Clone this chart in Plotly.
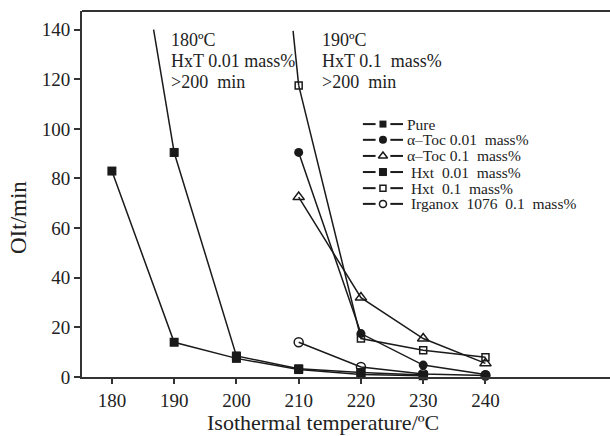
import plotly.graph_objects as go

# ---- data ----
temps_pure = [180, 190, 200, 210, 220, 230]
pure = [83, 14, 7.5, 3, 1, 0.5]

temps_atoc001 = [210, 220, 230, 240]
atoc001 = [90.5, 17.5, 4.8, 1]

temps_atoc01 = [210, 220, 230, 240]
atoc01 = [72.5, 32, 15.5, 5.5]

temps_hxt001 = [190, 200, 210, 220, 230]
hxt001 = [90.5, 8.5, 3.3, 1.8, 0.8]
hxt001_lead_x = [186.7, 190]   # line from the ">200 min" point
hxt001_lead_y = [140, 90.5]

temps_hxt01 = [210, 220, 230, 240]
hxt01 = [117.5, 15.5, 10.8, 8]
hxt01_lead_x = [209.1, 210]
hxt01_lead_y = [139.5, 117.5]

temps_irg = [210, 220, 230, 240]
irg = [14, 4, 1.2, 0.6]

x_ticks = [180, 190, 200, 210, 220, 230, 240]
y_ticks = [0, 20, 40, 60, 80, 100, 120, 140]

names = ["Pure", "α–Toc 0.01  mass%", "α–Toc 0.1  mass%",
         " Hxt  0.01  mass%", " Hxt  0.1  mass%", " Irganox  1076  0.1  mass%"]

FONT = "Liberation Serif"
LC = "#1a1a1a"
TC = "#222"
AX = "#333"
XR = [175.2, 260]
YR = [0, 147.5]

markers = [
    dict(symbol="square", size=9, color=LC),
    dict(symbol="circle", size=9, color=LC),
    dict(symbol="triangle-up-open", size=10, color=LC, line=dict(width=1.5, color=LC)),
    dict(symbol="square-x", size=8, color=LC, line=dict(width=1, color=LC)),
    dict(symbol="square-open", size=7, color=LC, line=dict(width=1.5, color=LC)),
    dict(symbol="circle-open", size=9, color=LC, line=dict(width=1.5, color=LC)),
]
leg_markers = [
    dict(symbol="square", size=7, color=LC),
    dict(symbol="circle", size=8, color=LC),
    dict(symbol="triangle-up-open", size=8, color=LC, line=dict(width=1.5, color=LC)),
    dict(symbol="square-x", size=7, color=LC, line=dict(width=1, color=LC)),
    dict(symbol="square-open", size=6, color=LC, line=dict(width=1.5, color=LC)),
    dict(symbol="circle-open", size=7, color=LC, line=dict(width=1.5, color=LC)),
]

xs_all = [temps_pure, temps_atoc001, temps_atoc01, temps_hxt001, temps_hxt01, temps_irg]
ys_all = [pure, atoc001, atoc01, hxt001, hxt01, irg]

fig = go.Figure()

for lx, ly in [(hxt001_lead_x, hxt001_lead_y), (hxt01_lead_x, hxt01_lead_y)]:
    fig.add_trace(go.Scatter(x=lx, y=ly, mode="lines", line=dict(color=LC, width=1.5),
                             showlegend=False, hoverinfo="skip", cliponaxis=False))

for name, xs, ys, mk in zip(names, xs_all, ys_all, markers):
    fig.add_trace(go.Scatter(x=xs, y=ys, name=name, mode="lines+markers",
                             line=dict(color=LC, width=1.5), marker=mk,
                             cliponaxis=False, showlegend=False))

# ---- hand-built compact legend (positions in plot-area fractions) ----
leg_y = [0.691, 0.648, 0.604, 0.560, 0.516, 0.473]
sym_x0, sym_xm, sym_x1, txt_x = 0.532, 0.570, 0.608, 0.614
gap = 0.014


def px(f):
    return XR[0] + f * (XR[1] - XR[0])


def py(f):
    return YR[0] + f * (YR[1] - YR[0])


for i, (ly, mk) in enumerate(zip(leg_y, leg_markers)):
    for a, b in [(sym_x0, sym_xm - gap), (sym_xm + gap, sym_x1)]:
        fig.add_shape(type="line", xref="paper", yref="paper", x0=a, x1=b, y0=ly, y1=ly,
                      line=dict(color=LC, width=2))
    fig.add_trace(go.Scatter(x=[px(sym_xm)], y=[py(ly)], mode="markers",
                             marker=mk, showlegend=False, hoverinfo="skip", cliponaxis=False))
    fig.add_annotation(x=txt_x, y=ly, xref="paper", yref="paper", xanchor="left",
                       yanchor="middle", showarrow=False, text=names[i], borderpad=0,
                       font=dict(family=FONT, size=15.5, color=TC))

# ---- notes ----
note1 = ["180ºC", "HxT 0.01 mass%", ">200  min"]
note2 = ["190ºC", "HxT 0.1  mass%", ">200  min"]
note_y = [0.921, 0.863, 0.806]
for nx, lines in [(0.166, note1), (0.453, note2)]:
    for ny, t in zip(note_y, lines):
        fig.add_annotation(x=nx, y=ny, xref="paper", yref="paper", xanchor="left",
                           yanchor="middle", showarrow=False, text=t, borderpad=0,
                           font=dict(family=FONT, size=18, color=TC))

# axis titles
fig.add_annotation(x=0.456, y=-(436 - 377) / 366, xref="paper", yref="paper", showarrow=False,
                   text="Isothermal temperature/ºC", font=dict(family=FONT, size=22, color=TC),
                   yanchor="bottom", xanchor="center", borderpad=0)
fig.add_annotation(x=-(82 - 18) / 528, y=(377 - 218) / 366, xref="paper", yref="paper",
                   showarrow=False, text="OIt/min", textangle=-90,
                   font=dict(family=FONT, size=23, color=TC),
                   yanchor="middle", xanchor="center")

# top frame line
fig.add_shape(type="line", xref="paper", yref="paper", x0=0, x1=1.02, y0=1, y1=1,
              line=dict(color=AX, width=2))

fig.update_layout(
    width=610, height=436,
    margin=dict(l=82, r=0, t=11, b=59),
    plot_bgcolor="white", paper_bgcolor="white",
    font=dict(family=FONT, size=18, color=TC),
    showlegend=False,
    xaxis=dict(range=XR, tickvals=x_ticks, showgrid=False, zeroline=False,
               showline=True, linecolor=AX, linewidth=2,
               ticks="outside", ticklen=5, tickcolor=AX, tickwidth=1.5,
               tickfont=dict(size=19)),
    yaxis=dict(range=YR, tickvals=y_ticks, showgrid=False, zeroline=False,
               showline=True, linecolor=AX, linewidth=2,
               ticks="outside", ticklen=6, tickcolor=AX, tickwidth=1.5,
               tickfont=dict(size=19)),
)

fig.write_html("out.html")
